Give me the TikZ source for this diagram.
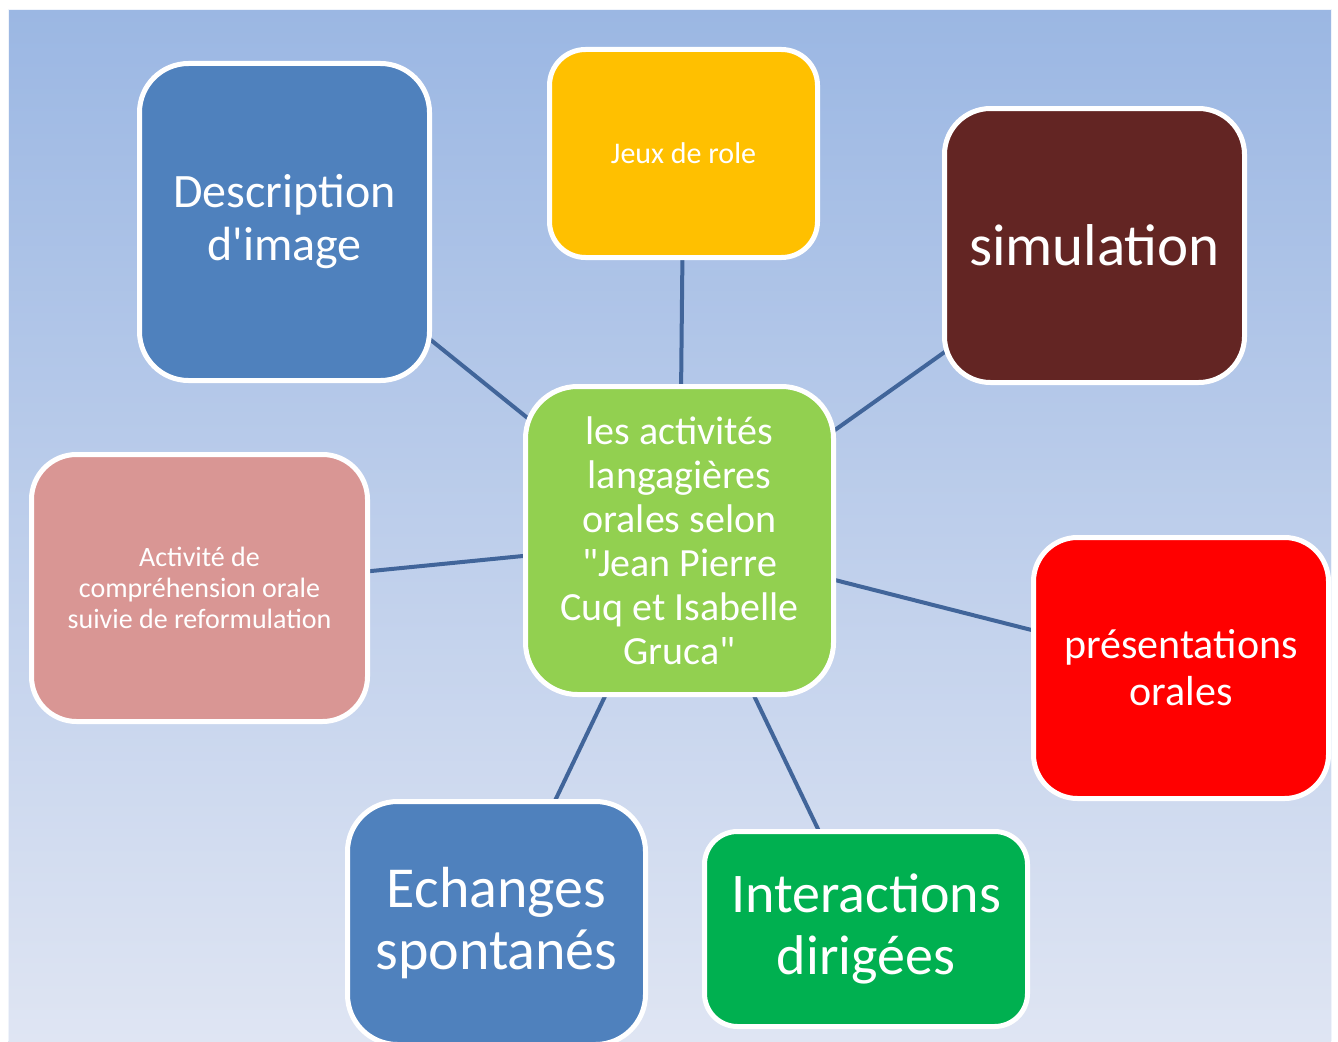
\documentclass[tikz,border=0pt]{standalone}
\usepackage{fontspec}
\setmainfont{Carlito}[Ligatures=TeXOff]
\usetikzlibrary{backgrounds}
\definecolor{bgtop}{RGB}{155,183,227}
\definecolor{bgbot}{RGB}{223,229,243}
\definecolor{linkc}{RGB}{65,101,154}
\definecolor{cblue}{RGB}{79,129,189}
\definecolor{cgold}{RGB}{255,192,0}
\definecolor{cmaroon}{RGB}{99,37,35}
\definecolor{clime}{RGB}{146,208,80}
\definecolor{crose}{RGB}{217,150,148}
\definecolor{cred}{RGB}{255,0,0}
\definecolor{cgreen}{RGB}{0,176,80}
\newcommand{\fs}[2]{\fontsize{#1pt}{#2pt}\selectfont}
\tikzset{
  box/.style={draw=white, line width=5pt, text=white, align=center, inner sep=0pt},
  link/.style={draw=linkc, line width=4pt},
}
\begin{document}
\begin{tikzpicture}[x=1pt,y=-1pt]
\useasboundingbox (0,0) rectangle (1338,1041);

\node[box, fill=cblue, rounded corners=49pt, minimum width=290pt, minimum height=317pt, font=\fs{48}{53}] (desc) at (284.5,222) {Description\\d'image};
\node[box, fill=cgold, rounded corners=36pt, minimum width=268pt, minimum height=208pt, font=\fs{30}{36}] (jeux) at (683.5,153.5) {Jeux de role};
\node[box, fill=cmaroon, rounded corners=46pt, minimum width=300pt, minimum height=274pt, font=\fs{59}{66}] (sim) at (1094.5,245.5) {simulation};
\node[box, fill=clime, rounded corners=52pt, minimum width=308pt, minimum height=308pt, font=\fs{40}{44}] (ctr) at (679.5,540.5) {les activités\\langagières\\orales selon\\"Jean Pierre\\Cuq et Isabelle\\Gruca"};
\node[box, fill=crose, rounded corners=45pt, minimum width=336pt, minimum height=267pt, font=\fs{28}{31}] (act) at (199.5,588) {Activité de\\compréhension orale\\suivie de reformulation};
\node[box, fill=cred, rounded corners=44pt, minimum width=295pt, minimum height=261pt, font=\fs{42}{47}] (pres) at (1181,668) {présentations\\orales};
\node[box, fill=cblue, rounded corners=50pt, minimum width=298pt, minimum height=243pt, font=\fs{58}{62}] (ech) at (496.5,923) {Echanges\\spontanés};
\node[box, fill=cgreen, rounded corners=33pt, minimum width=323pt, minimum height=195pt, font=\fs{56}{62}] (inter) at (866,929) {Interactions\\dirigées};

\begin{pgfonlayer}{background}
\shade[top color=bgtop, bottom color=bgbot] (8,10) rectangle (1331,1041);
\draw[white!85!bgtop, line width=1pt] (8,1041) -- (8,10) -- (1331,10) -- (1331,1041);
\draw[link] (desc.center) -- (ctr.center);
\draw[link] (jeux.center) -- (ctr.center);
\draw[link] (sim.center) -- (ctr.center);
\draw[link] (act.center) -- (ctr.center);
\draw[link] (pres.center) -- (ctr.center);
\draw[link] (ech.center) -- (ctr.center);
\draw[link] (inter.center) -- (ctr.center);
\end{pgfonlayer}
\end{tikzpicture}
\end{document}
